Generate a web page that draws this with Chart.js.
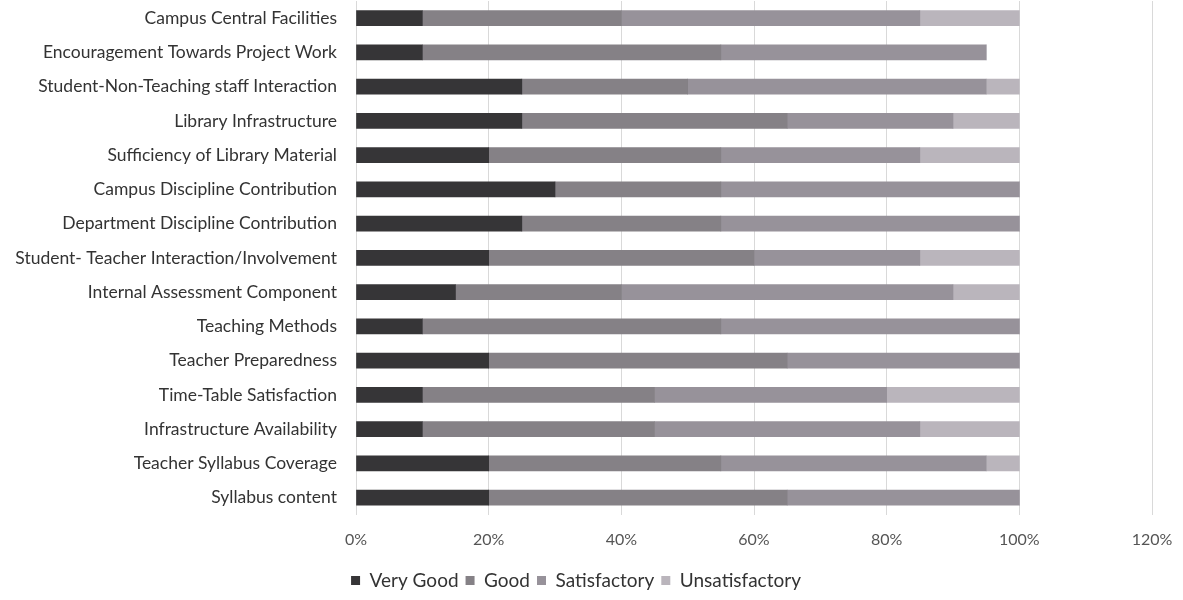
<!DOCTYPE html>
<html>
<head>
<meta charset="utf-8">
<script src="https://cdn.jsdelivr.net/npm/chart.js@4"></script>
<style>
  html, body { margin: 0; padding: 0; background: #ffffff; }
  #wrap { width: 1183px; height: 600px; position: relative; }
</style>
</head>
<body>
<div id="wrap"><canvas id="feedbackChart"></canvas></div>
<script>
const categories = [
  "Campus Central Facilities",
  "Encouragement Towards Project Work",
  "Student-Non-Teaching staff Interaction",
  "Library Infrastructure",
  "Sufficiency of Library Material",
  "Campus Discipline Contribution",
  "Department Discipline Contribution",
  "Student- Teacher Interaction/Involvement",
  "Internal Assessment Component",
  "Teaching Methods",
  "Teacher Preparedness",
  "Time-Table Satisfaction",
  "Infrastructure Availability",
  "Teacher Syllabus Coverage",
  "Syllabus content",
];

const veryGood = [10, 10, 25, 25, 20, 30, 25, 20, 15, 10, 20, 10, 10, 20, 20];
const good = [30, 45, 25, 40, 35, 25, 30, 40, 25, 45, 45, 35, 35, 35, 45];
const satisfactory = [45, 40, 45, 25, 30, 45, 45, 25, 50, 45, 35, 35, 40, 40, 35];
const unsatisfactory = [15, 0, 5, 10, 15, 0, 0, 15, 10, 0, 0, 20, 15, 5, 0];

const xTicks = [0, 20, 40, 60, 80, 100, 120];

const fontFamily = "Lato, 'Open Sans', sans-serif";

function series(label, data, color) {
  return {
    label: label,
    data: data,
    backgroundColor: color,
    borderWidth: 0,
    barThickness: 15,
  };
}

const ctx = document.getElementById("feedbackChart").getContext("2d");

new Chart(ctx, {
  type: "bar",
  data: {
    labels: categories,
    datasets: [
      series("Very Good", veryGood, "#363537"),
      series("Good", good, "#858186"),
      series("Satisfactory", satisfactory, "#97929a"),
      series("Unsatisfactory", unsatisfactory, "#bab5bc"),
    ],
  },
  options: {
    indexAxis: "y",
    responsive: true,
    maintainAspectRatio: false,
    animation: false,
    layout: {
      padding: { left: 0, right: 31, top: 1, bottom: 0 },
    },
    plugins: {
      legend: {
        display: true,
        position: "bottom",
        labels: {
          boxWidth: 9,
          boxHeight: 9,
          padding: 7,
          color: "#333",
          font: { size: 19, family: fontFamily },
        },
      },
      tooltip: { enabled: false },
    },
    scales: {
      x: {
        stacked: true,
        min: 0,
        max: 120,
        afterBuildTicks: function (axis) {
          axis.ticks = xTicks.map((v) => ({ value: v }));
        },
        afterFit: function (axis) {
          axis.paddingLeft = 0;
          axis.paddingRight = 0;
        },
        ticks: {
          callback: function (value) {
            return value + "%";
          },
          color: "#555",
          padding: 15,
          font: { size: 16, family: fontFamily },
        },
        grid: {
          color: "#d9d9d9",
          drawTicks: false,
        },
        border: { display: false },
      },
      y: {
        stacked: true,
        afterFit: function (axis) {
          axis.width = 356;
          axis.paddingTop = 0;
          axis.paddingBottom = 0;
        },
        ticks: {
          color: "#333",
          padding: 19,
          font: { size: 17.5, family: fontFamily },
        },
        grid: { display: false, drawTicks: false },
        border: { display: false },
      },
    },
  },
});
</script>
</body>
</html>
